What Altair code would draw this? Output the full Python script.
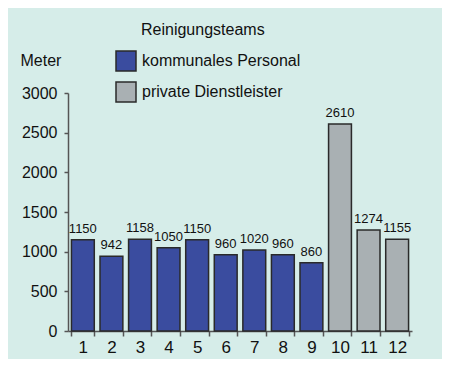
import altair as alt
import pandas as pd

categories = ["1", "2", "3", "4", "5", "6", "7", "8", "9", "10", "11", "12"]
values = [1150, 942, 1158, 1050, 1150, 960, 1020, 960, 860, 2610, 1274, 1155]
teams = ["kommunales Personal"] * 9 + ["private Dienstleister"] * 3
team_order = ["kommunales Personal", "private Dienstleister"]
team_colors = ["#3a4c9f", "#a9b0b3"]
y_ticks = [0, 500, 1000, 1500, 2000, 2500, 3000]

df = pd.DataFrame({"cat": categories, "value": values, "team": teams})

FONT = "Liberation Sans"

x = alt.X("cat:N", sort=categories, title=None,
          scale=alt.Scale(paddingInner=0.2, paddingOuter=0.12),
          axis=alt.Axis(labelAngle=0, tickBand="extent", domainColor="#555555",
                        tickColor="#555555", tickSize=5, labelFontSize=17,
                        labelColor="#111111", labelPadding=3, domainWidth=1.5, tickWidth=1.5))

y = alt.Y("value:Q", scale=alt.Scale(domain=[0, 3000], nice=False),
          axis=alt.Axis(values=y_ticks, format="d", labelOverlap=False, grid=False,
                        domainColor="#555555",
                        tickColor="#555555", tickSize=4, labelFontSize=16,
                        labelColor="#111111", labelPadding=7, domainWidth=1.5, tickWidth=1.5,
                        title="Meter", titleAngle=0, titleAlign="left", titleBaseline="middle",
                        titleX=-48, titleY=-33, titleFontSize=16, titleFontWeight="normal",
                        titleColor="#111111"))

base = alt.Chart(df).encode(x=x, y=y)

bars = base.mark_bar(stroke="#2a2a2a", strokeWidth=1.5).encode(
    color=alt.Color("team:N", sort=team_order,
                    scale=alt.Scale(domain=team_order, range=team_colors),
                    legend=alt.Legend(title=None, orient="none",
                                      legendX=47, legendY=-43,
                                      symbolType="square", symbolSize=400,
                                      symbolStrokeColor="#2a2a2a", symbolStrokeWidth=1.5,
                                      labelFontSize=16, labelColor="#111111",
                                      rowPadding=5, labelOffset=5)),
)

labels = base.mark_text(dy=-11, fontSize=13, color="#111111", font=FONT).encode(
    text="value:Q")

legend_title = alt.Chart(pd.DataFrame({"t": ["Reinigungsteams"]})).mark_text(
    align="left", baseline="middle", fontSize=16, color="#111111", font=FONT
).encode(x=alt.value(73), y=alt.value(-63), text="t:N")

chart = (bars + labels + legend_title).properties(
    width=344, height=238,
    padding={"left": 60, "top": 85, "right": 30, "bottom": 28},
    autosize=alt.AutoSizeParams(type="none"),
    background="#d6ede9",
).configure(font=FONT).configure_view(stroke=None)

chart.save("out.html", embed_options={"renderer": "svg", "actions": False})
